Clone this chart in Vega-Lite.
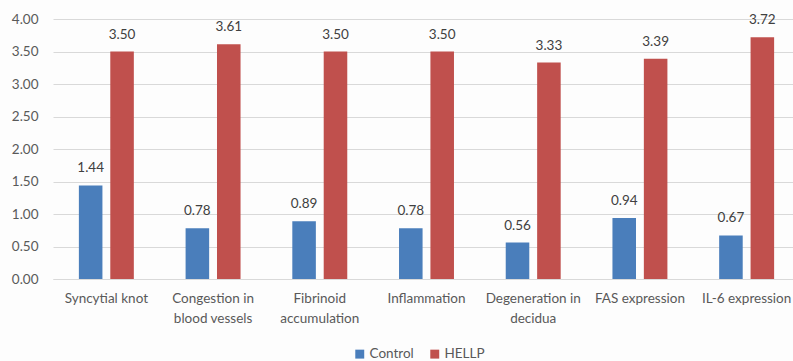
{
  "$schema": "https://vega.github.io/schema/vega-lite/v6.json",
  "width": 747,
  "height": 260,
  "autosize": {"type": "none"},
  "padding": {"left": 53, "right": 0, "top": 19, "bottom": 82},
  "background": "#fdfdfd",
  "config": {
    "font": "Lato",
    "view": {"stroke": null}
  },
  "data": {
    "values": [
      {"cat": "Syncytial knot", "group": "Control", "value": 1.44},
      {"cat": "Syncytial knot", "group": "HELLP", "value": 3.50},
      {"cat": "Congestion in|blood vessels", "group": "Control", "value": 0.78},
      {"cat": "Congestion in|blood vessels", "group": "HELLP", "value": 3.61},
      {"cat": "Fibrinoid|accumulation", "group": "Control", "value": 0.89},
      {"cat": "Fibrinoid|accumulation", "group": "HELLP", "value": 3.50},
      {"cat": "Inflammation", "group": "Control", "value": 0.78},
      {"cat": "Inflammation", "group": "HELLP", "value": 3.50},
      {"cat": "Degeneration in|decidua", "group": "Control", "value": 0.56},
      {"cat": "Degeneration in|decidua", "group": "HELLP", "value": 3.33},
      {"cat": "FAS expression", "group": "Control", "value": 0.94},
      {"cat": "FAS expression", "group": "HELLP", "value": 3.39},
      {"cat": "IL-6 expression", "group": "Control", "value": 0.67},
      {"cat": "IL-6 expression", "group": "HELLP", "value": 3.72}
    ]
  },
  "encoding": {
    "x": {
      "field": "cat", "type": "nominal", "sort": null, "title": null,
      "scale": {"paddingInner": 0.485, "paddingOuter": 0.2425},
      "axis": {
        "labelAngle": 0, "labelExpr": "split(datum.label, '|')",
        "labelFontSize": 13.5, "labelColor": "#595959", "labelPadding": 12,
        "ticks": false, "domainColor": "#d9d9d9", "labelLineHeight": 20,
        "labelBaseline": "top"
      }
    },
    "xOffset": {"field": "group", "type": "nominal", "scale": {"paddingInner": 0.25}},
    "y": {
      "field": "value", "type": "quantitative", "title": null,
      "scale": {"domain": [0, 4]},
      "axis": {
        "values": [0, 0.5, 1, 1.5, 2, 2.5, 3, 3.5, 4],
        "format": ".2f", "labelFontSize": 13.5, "labelColor": "#595959",
        "domain": false, "ticks": false, "gridColor": "#d9d9d9",
        "labelPadding": 15
      }
    },
    "color": {
      "field": "group", "type": "nominal", "title": null,
      "scale": {"domain": ["Control", "HELLP"], "range": ["#4a7ebb", "#c0504d"]},
      "legend": {
        "orient": "none", "direction": "horizontal", "symbolType": "square",
        "legendX": 300, "legendY": 328, "padding": 0,
        "symbolSize": 80, "labelFontSize": 13.5, "labelColor": "#595959",
        "columnPadding": 14, "symbolOpacity": 1, "labelOffset": 3
      }
    }
  },
  "layer": [
    {"mark": {"type": "bar"}},
    {
      "mark": {"type": "text", "dy": -17, "fontSize": 13.5, "color": "#404040"},
      "encoding": {
        "text": {"field": "value", "type": "quantitative", "format": ".2f"},
        "color": {"value": "#404040"}
      }
    }
  ]
}
